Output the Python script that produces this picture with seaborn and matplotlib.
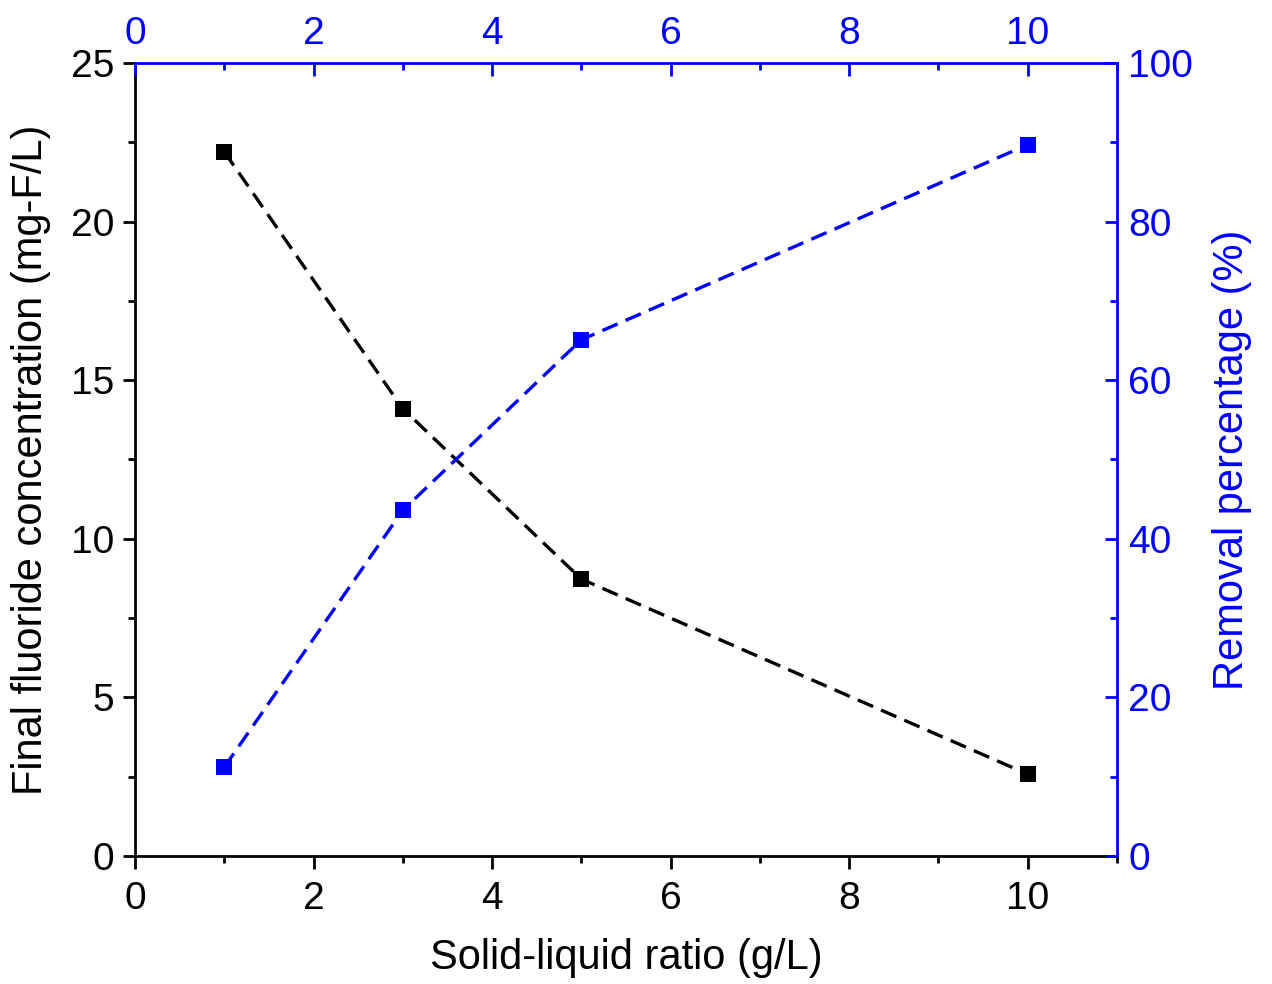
import matplotlib
matplotlib.use("Agg")
import matplotlib.pyplot as plt
import seaborn as sns
import pandas as pd
from matplotlib.ticker import MultipleLocator

sns.set_style("ticks")
plt.rcParams['font.family'] = ['Liberation Sans', 'DejaVu Sans']
plt.rcParams['text.color'] = 'black'
plt.rcParams['axes.labelcolor'] = 'black'

ratio = [1, 3, 5, 10]
final_conc = [22.2, 14.1, 8.73, 2.58]
removal = [11.2, 43.6, 65.1, 89.7]

df = pd.DataFrame({"ratio": ratio, "conc": final_conc, "removal": removal})

fig = plt.figure(figsize=(12.72, 9.84), dpi=100)
ax = fig.add_axes([135/1272, 1-856/984, (1117-135)/1272, (856-63)/984])

blue = "#0000FF"
fs = 28
lfs = 30
dash = (0, (5, 2.6))

sns.lineplot(data=df, x="ratio", y="conc", ax=ax, color="black", linestyle=dash,
             linewidth=2.4, marker="s", markersize=12, markeredgewidth=0)
ax.set_xlim(0, 11)
ax.set_ylim(0, 25)
ax.xaxis.set_major_locator(MultipleLocator(2))
ax.xaxis.set_minor_locator(MultipleLocator(1))
ax.yaxis.set_major_locator(MultipleLocator(5))
ax.yaxis.set_minor_locator(MultipleLocator(2.5))
ax.tick_params(axis="both", which="major", direction="out", length=9, width=2, labelsize=fs, pad=6, colors="black")
ax.tick_params(axis="x", which="major", pad=9)
ax.tick_params(axis="both", which="minor", direction="out", length=5, width=2, colors="black")
ax.set_xlabel("Solid-liquid ratio (g/L)", fontsize=lfs, labelpad=15, color="black")
ax.set_ylabel("Final fluoride concentration (mg-F/L)", fontsize=lfs, labelpad=14, color="black")
for s in ["left", "bottom"]:
    ax.spines[s].set_linewidth(2)
    ax.spines[s].set_color("black")
ax.spines["top"].set_visible(False)
ax.spines["right"].set_visible(False)

ax2 = ax.twinx()
sns.lineplot(data=df, x="ratio", y="removal", ax=ax2, color=blue, linestyle=dash,
             linewidth=2.4, marker="s", markersize=12, markeredgewidth=0)
ax2.set_ylim(0, 100)
ax2.yaxis.set_major_locator(MultipleLocator(20))
ax2.yaxis.set_minor_locator(MultipleLocator(10))
ax2.tick_params(axis="y", which="major", direction="in", length=9, width=2, labelsize=fs, colors=blue, pad=8)
ax2.tick_params(axis="y", which="minor", direction="in", length=5, width=2, colors=blue)
ax2.set_ylabel("Removal percentage (%)", fontsize=lfs, color=blue, labelpad=14)
ax2.set_xlabel("")
for s in ["left", "bottom"]:
    ax2.spines[s].set_visible(False)
ax2.spines["right"].set_color(blue)
ax2.spines["right"].set_linewidth(2)
ax2.spines["top"].set_visible(False)

ax3 = ax.twiny()
ax3.set_xlim(0, 11)
ax3.xaxis.set_major_locator(MultipleLocator(2))
ax3.xaxis.set_minor_locator(MultipleLocator(1))
ax3.tick_params(axis="x", which="major", direction="in", length=9, width=2, labelsize=fs, colors=blue, pad=8)
ax3.tick_params(axis="x", which="minor", direction="in", length=5, width=2, colors=blue)
for s in ["left", "bottom", "right"]:
    ax3.spines[s].set_visible(False)
ax3.spines["top"].set_color(blue)
ax3.spines["top"].set_linewidth(2)

fig.savefig("out.png", dpi=100)
